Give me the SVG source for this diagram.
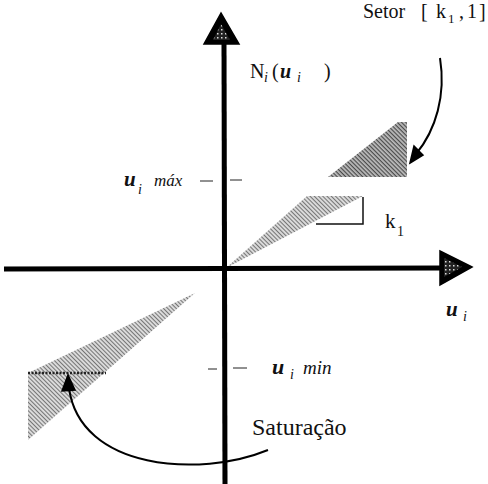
<svg xmlns="http://www.w3.org/2000/svg" width="488" height="484" viewBox="0 0 488 484">
  <style>
    .it { font-style: italic; }
    .bi { font-style: italic; font-weight: bold; }
    .axis { stroke: #000; stroke-width: 5; fill: none; }
    .tick { stroke: #222; stroke-width: 1; }
    .curve { stroke: #000; stroke-width: 2; fill: none; }
    .head { fill: #000; stroke: #000; stroke-width: 1.5; stroke-linejoin: miter; }
    .lbl { font-family: "Liberation Serif", "DejaVu Serif", serif; fill: #111; }
  </style>
  <defs>
    <pattern id="stipDark" width="3" height="3" patternUnits="userSpaceOnUse" patternTransform="rotate(45)">
      <rect width="3" height="3" fill="#bdbdbd"/>
      <rect width="3" height="1.2" fill="#4a4a4a"/>
    </pattern>
    <pattern id="stipLight" width="3" height="3" patternUnits="userSpaceOnUse" patternTransform="rotate(45)">
      <rect width="3" height="3" fill="#dadada"/>
      <rect width="3" height="0.9" fill="#6a6a6a"/>
    </pattern>
    <pattern id="speck" width="4" height="4" patternUnits="userSpaceOnUse">
      <rect width="4" height="4" fill="#222"/>
      <rect x="1" y="1" width="1.5" height="1.5" fill="#ddd"/>
    </pattern>
  </defs>

  <g id="sector-upper">
    <polygon points="328,177 407,177 407,122 398,122" fill="url(#stipDark)"/>
  </g>

  <g id="sector-origin">
    <polygon points="226,268 307,196 363,196" fill="url(#stipLight)"/>
    <polyline points="363,197 363,224 316,224" fill="none" stroke="#111" stroke-width="1.5"/>
  </g>

  <g id="saturation">
    <polygon points="28,373 28,440 195,293" fill="url(#stipLight)"/>
    <line x1="28" y1="373" x2="106" y2="373" stroke="#222" stroke-width="2.5" stroke-dasharray="2,1.5"/>
  </g>

  <g id="ticks">
    <line class="tick" x1="200" y1="181" x2="213" y2="181"/>
    <line class="tick" x1="230" y1="180" x2="242" y2="180"/>
    <line class="tick" x1="208" y1="369" x2="217" y2="369"/>
    <line class="tick" x1="233" y1="368" x2="247" y2="368"/>
  </g>

  <g id="connectors">
    <line class="axis" x1="224" y1="42" x2="225" y2="484"/>
    <line class="axis" x1="4" y1="269" x2="442" y2="268"/>
    <path class="curve" d="M440,58 C446,95 436,130 416,154"/>
    <path class="curve" d="M268,450 C200,478 80,470 69,388"/>
    <polygon class="head" points="410,163 423,155 414,146"/>
    <polygon class="head" points="68,375 62,391 75,390"/>
  </g>

  <g id="axis-heads">
    <polygon class="head" points="221,13 204,44 239,44"/>
    <polygon points="221,24 213,40 230,40" fill="url(#speck)"/>
    <polygon class="head" points="472,267 440,251 440,285"/>
    <polygon points="462,267 444,258 444,277" fill="url(#speck)"/>
  </g>

  <g id="label-setor">
    <text class="lbl" font-size="20" y="18">
      <tspan x="363">Setor</tspan><tspan x="421">[</tspan><tspan x="436">k</tspan><tspan x="448" y="23" font-size="13">1</tspan><tspan x="459" y="18">,</tspan><tspan x="467" y="18">1</tspan><tspan x="479" y="18">]</tspan>
    </text>
  </g>

  <g id="label-N">
    <text class="lbl" font-size="20" y="78">
      <tspan x="250">N</tspan><tspan x="264" y="82" font-size="14" class="it">i</tspan><tspan x="272" y="78">(</tspan><tspan x="280" y="78" class="bi">u</tspan><tspan x="297" y="82" font-size="14" class="it">i</tspan><tspan x="324" y="78">)</tspan>
    </text>
  </g>

  <g id="label-umax">
    <text class="lbl" font-size="21" y="186">
      <tspan x="124" class="bi">u</tspan><tspan x="138" y="194" font-size="14" class="it">i</tspan><tspan x="154" y="186" font-size="17" class="it">máx</tspan>
    </text>
  </g>

  <g id="label-umin">
    <text class="lbl" font-size="22" y="374">
      <tspan x="272" class="bi">u</tspan><tspan x="290" y="379" font-size="14" class="it">i</tspan><tspan x="303" y="374" font-size="19" class="it">min</tspan>
    </text>
  </g>

  <g id="label-k1">
    <text class="lbl" font-size="21" y="228">
      <tspan x="385">k</tspan><tspan x="397" y="236" font-size="14">1</tspan>
    </text>
  </g>

  <g id="label-ui">
    <text class="lbl" font-size="21" y="316">
      <tspan x="446" class="bi">u</tspan><tspan x="463" y="321" font-size="14" class="it">i</tspan>
    </text>
  </g>

  <g id="label-saturacao">
    <text class="lbl" font-size="24" x="252" y="435">Saturação</text>
  </g>
</svg>
